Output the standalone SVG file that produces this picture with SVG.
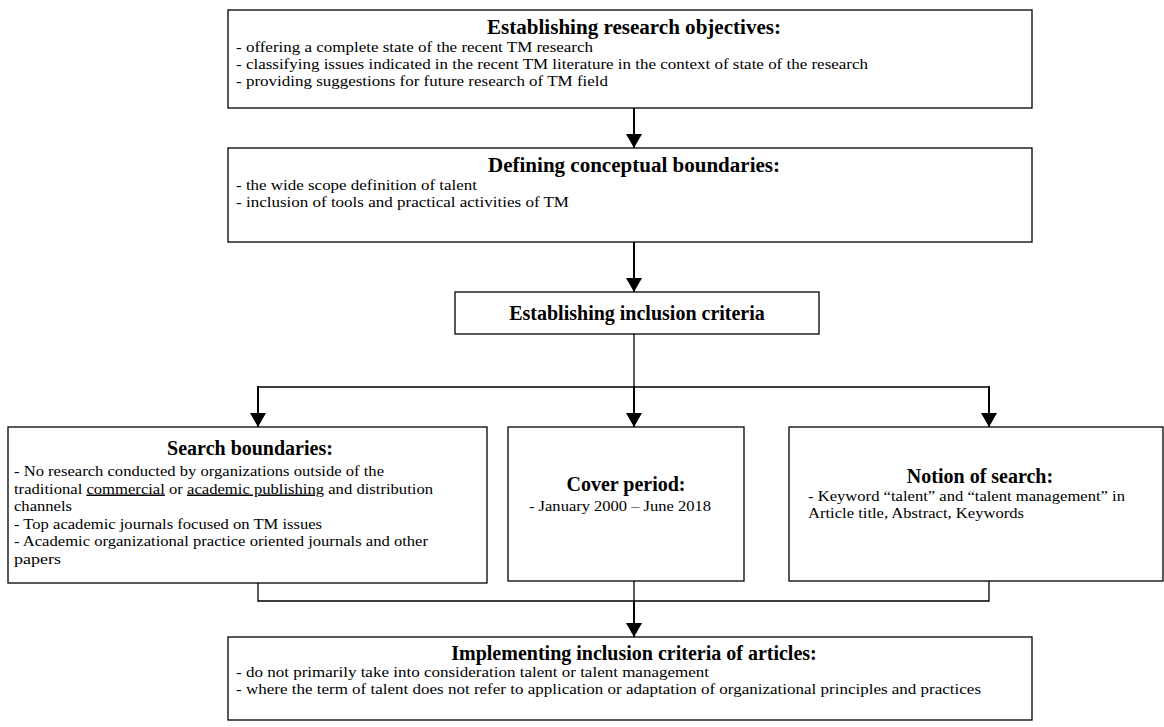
<svg xmlns="http://www.w3.org/2000/svg" width="1164" height="727" viewBox="0 0 1164 727">
<defs>
<style>
.box{fill:#fff;stroke:#000;stroke-width:1.3}
.t{font-family:"Liberation Serif","Times New Roman",serif;fill:#000}
.h{font-weight:bold;font-size:20px;text-anchor:middle}
.hb{font-weight:bold;font-size:20px;text-anchor:middle}
.b{font-size:15px}
.ln{fill:none;stroke:#000;stroke-width:1.3}
.ar{fill:none;stroke:#000;stroke-width:2}
</style>
<marker id="ah" viewBox="0 0 14 16" refX="14" refY="8" markerWidth="14" markerHeight="16" orient="auto" markerUnits="userSpaceOnUse">
<path d="M0,0 L14,8 L0,16 Z" fill="#000"/>
</marker>
</defs>
<rect width="1164" height="727" fill="#fff"/>
<g id="connectors">
<line class="ar" x1="634" y1="108" x2="634" y2="148" marker-end="url(#ah)"/>
<line class="ar" x1="634" y1="242" x2="634" y2="292" marker-end="url(#ah)"/>
<line class="ln" x1="634" y1="334" x2="634" y2="387"/>
<polyline class="ln" points="258,387 989,387"/>
<line class="ar" x1="258" y1="386" x2="258" y2="427" marker-end="url(#ah)"/>
<line class="ar" x1="634" y1="387" x2="634" y2="427" marker-end="url(#ah)"/>
<line class="ar" x1="989" y1="386" x2="989" y2="427" marker-end="url(#ah)"/>
<polyline class="ln" points="258,583 258,601 989,601 989,581"/>
<line class="ln" x1="634" y1="581" x2="634" y2="601"/>
<line class="ar" x1="634" y1="601" x2="634" y2="637" marker-end="url(#ah)"/>
</g>
<g id="n1">
<rect class="box" x="228" y="10" width="804" height="98"/>
<text class="t h" x="634" y="34" textLength="294" lengthAdjust="spacingAndGlyphs">Establishing research objectives:</text>
<text class="t b" x="236" y="52" textLength="357" lengthAdjust="spacingAndGlyphs">- offering a complete state of the recent TM research</text>
<text class="t b" x="236" y="69" textLength="632" lengthAdjust="spacingAndGlyphs">- classifying issues indicated in the recent TM literature in the context of state of the research</text>
<text class="t b" x="236" y="86" textLength="372" lengthAdjust="spacingAndGlyphs">- providing suggestions for future research of TM field</text>
</g>
<g id="n2">
<rect class="box" x="228" y="148" width="804" height="94"/>
<text class="t h" x="634" y="172" textLength="292" lengthAdjust="spacingAndGlyphs">Defining conceptual boundaries:</text>
<text class="t b" x="236" y="190" textLength="241" lengthAdjust="spacingAndGlyphs">- the wide scope definition of talent</text>
<text class="t b" x="236" y="207" textLength="333" lengthAdjust="spacingAndGlyphs">- inclusion of tools and practical activities of TM</text>
</g>
<g id="n3">
<rect class="box" x="455" y="292" width="364" height="42"/>
<text class="t" x="637" y="320" font-weight="bold" font-size="20" text-anchor="middle">Establishing inclusion criteria</text>
</g>
<g id="n4">
<rect class="box" x="8" y="427" width="479" height="156"/>
<text class="t hb" x="250" y="455">Search boundaries:</text>
<text class="t b" x="14" y="476" textLength="370" lengthAdjust="spacingAndGlyphs">- No research conducted by organizations outside of the</text>
<text class="t b" x="14" y="493.5" textLength="419" lengthAdjust="spacingAndGlyphs">traditional <tspan text-decoration="underline">commercial</tspan> or <tspan text-decoration="underline">academic publishing</tspan> and distribution</text>
<text class="t b" x="14" y="511" textLength="58" lengthAdjust="spacingAndGlyphs">channels</text>
<text class="t b" x="14" y="528.5" textLength="308" lengthAdjust="spacingAndGlyphs">- Top academic journals focused on TM issues</text>
<text class="t b" x="14" y="546" textLength="414" lengthAdjust="spacingAndGlyphs">- Academic organizational practice oriented journals and other</text>
<text class="t b" x="14" y="563.5" textLength="47" lengthAdjust="spacingAndGlyphs">papers</text>
</g>
<g id="n5">
<rect class="box" x="508" y="427" width="236" height="154"/>
<text class="t hb" x="626" y="491">Cover period:</text>
<text class="t b" x="620" y="511" text-anchor="middle" textLength="182" lengthAdjust="spacingAndGlyphs">- January 2000 – June 2018</text>
</g>
<g id="n6">
<rect class="box" x="789" y="427" width="374" height="154"/>
<text class="t hb" x="980" y="483">Notion of search:</text>
<text class="t b" x="808" y="501" textLength="317" lengthAdjust="spacingAndGlyphs">- Keyword “talent” and “talent management” in</text>
<text class="t b" x="808" y="518" textLength="216" lengthAdjust="spacingAndGlyphs">Article title, Abstract, Keywords</text>
</g>
<g id="n7">
<rect class="box" x="228" y="637" width="804" height="83"/>
<text class="t" x="634" y="660" font-weight="bold" font-size="20" text-anchor="middle">Implementing inclusion criteria of articles:</text>
<text class="t b" x="236" y="677" textLength="473" lengthAdjust="spacingAndGlyphs">- do not primarily take into consideration talent or talent management</text>
<text class="t b" x="236" y="694" textLength="745" lengthAdjust="spacingAndGlyphs">- where the term of talent does not refer to application or adaptation of organizational principles and practices</text>
</g>
</svg>
